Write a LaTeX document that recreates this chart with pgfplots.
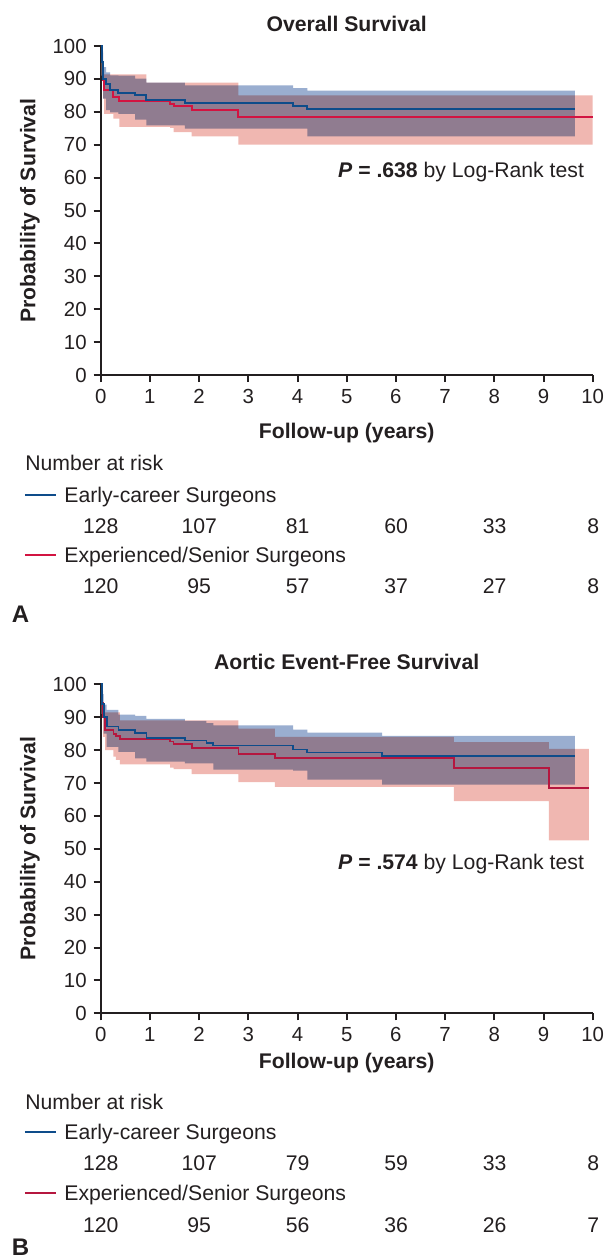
\documentclass[border=0pt]{standalone}
\usepackage{pgfplots}
\pgfplotsset{compat=1.18}
\usepackage{pgfplotstable}
\usepgfplotslibrary{fillbetween}
\usepackage{fontspec}
\setmainfont{Liberation Sans}

\definecolor{bline}{HTML}{0E4C8A}
\definecolor{rlineA}{HTML}{D21441}
\definecolor{rlineB}{HTML}{B5173F}
\definecolor{bfill}{HTML}{9AAED0}
\definecolor{rfill}{HTML}{F0B7B1}
\definecolor{txt}{HTML}{231F20}

% t = years, s = survival, u/l = confidence band
\pgfplotstableread{
t s u l
0 100 100 100
0.03 95 98 91
0.05 90.1 93.6 84
0.11 88.5 92.0 80.5
0.19 86.7 91.1 79.8
0.36 85.8 91.0 79.4
0.70 85.2 90.1 77.6
0.93 83.5 88.9 75.9
1.71 82.7 88.0 74.9
3.91 81.7 87.2 74.9
4.20 80.8 86.4 72.5
9.64 80.8 86.4 72.5
}\earlyA
\pgfplotstableread{
t s u l
0 100 100 100
0.02 95.1 98.5 91
0.05 89.6 93.5 84
0.07 86.5 91.4 79.4
0.26 84.5 91.4 77.9
0.38 83.3 91.4 75.4
0.93 83.3 88.9 75.4
1.41 82.5 88.9 75.1
1.48 81.7 88.9 73.8
1.85 80.6 88.9 72.5
2.80 78.5 85.0 70.0
10.0 78.5 85.0 70.0
}\seniorA
\pgfplotstableread{
t s u l
0 100 100 100
0.02 94 97 90
0.06 90 93.8 85
0.12 87.2 92.2 81
0.36 86.0 90.8 79.5
0.70 85.3 90.4 77.5
0.93 83.6 89.5 76.5
1.71 82.9 88.9 76.0
2.15 82.1 88.2 76.0
2.29 81.4 87.5 74.1
3.91 80.2 86.2 73.8
4.20 79.3 85.3 71.0
5.72 78.1 84.3 69.5
9.64 78.1 84.3 69.5
}\earlyB
\pgfplotstableread{
t s u l
0 100 100 100
0.02 94.5 98 91
0.05 90 93.5 84
0.09 86.2 91.5 80
0.26 85 91.5 78
0.31 84.2 91.5 77
0.39 83.4 89 75.7
1.41 82.6 89 74.7
1.48 81.9 89 74.2
1.85 80.7 89 72.7
2.80 78.9 86.5 70.3
3.54 77.6 84 68.8
7.18 74.6 82.4 64.5
9.11 68.6 80.4 52.6
9.92 68.6 80.4 52.6
}\seniorB

\pgfplotsset{km/.style={
  scale only axis, width=246pt, height=164.5pt,
  xmin=0, xmax=10, ymin=0, ymax=100,
  xtick={0,1,...,10}, ytick={0,10,...,100},
  axis x line*=bottom, axis y line*=left,
  axis line style={line width=1pt, txt},
  tick style={line width=1pt, txt},
  tick align=outside, major tick length=3.5pt,
  clip=false,
  /pgf/number format/assume math mode=true,
  tick label style={font=\fontsize{10.2}{12}\selectfont, text=txt},
  title style={at={(0.5,1)}, anchor=base, yshift=1.5pt, font=\fontsize{10.6}{12}\selectfont\bfseries, text=txt},
  ylabel={Probability of Survival},
  ylabel style={at={(axis description cs:0,0.5)}, anchor=center, yshift=35.35pt, font=\fontsize{10.6}{12}\selectfont\bfseries, text=txt},
  xlabel={Follow-up (years)},
  xlabel style={at={(axis description cs:0.5,0)}, anchor=center, font=\fontsize{10.6}{12}\selectfont\bfseries, text=txt},
}}

\newcommand{\riskrow}[7]{%
  \foreach \xx/\vv in {0/#2,49.25/#3,98.5/#4,147.75/#5,197/#6,246.25/#7}
    \node[anchor=base, inner sep=0pt, text=txt] at (\xx pt,#1) {\fontsize{10.6}{12}\selectfont\vv};}

\begin{document}
\begin{tikzpicture}
\begin{axis}[km, at={(0,0)}, anchor=south west, title={Overall Survival},
  xlabel style={yshift=-29pt}]
  \addplot[name path=ua, draw=none, const plot] table[x=t,y=u] {\seniorA};
  \addplot[name path=la, draw=none, const plot] table[x=t,y=l] {\seniorA};
  \addplot[fill=rfill, draw=none] fill between[of=ua and la];
  \addplot[name path=ub, draw=none, const plot] table[x=t,y=u] {\earlyA};
  \addplot[name path=lb, draw=none, const plot] table[x=t,y=l] {\earlyA};
  \addplot[fill=bfill, draw=none, blend mode=multiply] fill between[of=ub and lb];
  \addplot[rlineA, line width=1pt, const plot] table[x=t,y=s] {\seniorA};
  \addplot[bline, line width=1pt, const plot] table[x=t,y=s] {\earlyA};
  \node[anchor=east, inner sep=0pt, text=txt, font=\fontsize{10.6}{12}\selectfont] at (axis cs:9.83,61.7)
    {\textbf{\textit{P}} \textbf{= .638} by Log-Rank test};
\end{axis}
\node[anchor=base west, inner sep=0pt, text=txt] at (-37.85pt,-47.7pt) {\fontsize{10.6}{12}\selectfont Number at risk};
\draw[bline, line width=0.8pt] (-37.85pt,-60pt) -- (-22.35pt,-60pt);
\node[anchor=base west, inner sep=0pt, text=txt] at (-18.35pt,-63.7pt) {\fontsize{10.6}{12}\selectfont Early-career Surgeons};
\riskrow{-79.2pt}{128}{107}{81}{60}{33}{8}
\draw[rlineA, line width=1.1pt] (-37.85pt,-90pt) -- (-22.35pt,-90pt);
\node[anchor=base west, inner sep=0pt, text=txt] at (-18.35pt,-93.7pt) {\fontsize{10.6}{12}\selectfont Experienced/Senior Surgeons};
\riskrow{-109.2pt}{120}{95}{57}{37}{27}{8}
\node[anchor=base west, inner sep=0pt, text=txt] at (-44.55pt,-123.5pt) {\fontsize{12}{14}\selectfont\bfseries A};

\begin{axis}[km, at={(0,-319.15pt)}, anchor=south west, title={Aortic Event-Free Survival},
  xlabel style={yshift=-25pt}]
  \addplot[name path=ua, draw=none, const plot] table[x=t,y=u] {\seniorB};
  \addplot[name path=la, draw=none, const plot] table[x=t,y=l] {\seniorB};
  \addplot[fill=rfill, draw=none] fill between[of=ua and la];
  \addplot[name path=ub, draw=none, const plot] table[x=t,y=u] {\earlyB};
  \addplot[name path=lb, draw=none, const plot] table[x=t,y=l] {\earlyB};
  \addplot[fill=bfill, draw=none, blend mode=multiply] fill between[of=ub and lb];
  \addplot[rlineB, line width=0.9pt, const plot] table[x=t,y=s] {\seniorB};
  \addplot[bline, line width=0.9pt, const plot] table[x=t,y=s] {\earlyB};
  \node[anchor=east, inner sep=0pt, text=txt, font=\fontsize{10.6}{12}\selectfont] at (axis cs:9.83,45.4)
    {\textbf{\textit{P}} \textbf{= .574} by Log-Rank test};
\end{axis}
\begin{scope}[yshift=-319.15pt]
\node[anchor=base west, inner sep=0pt, text=txt] at (-37.85pt,-48.2pt) {\fontsize{10.6}{12}\selectfont Number at risk};
\draw[bline, line width=1.1pt] (-37.85pt,-59.5pt) -- (-22.35pt,-59.5pt);
\node[anchor=base west, inner sep=0pt, text=txt] at (-18.35pt,-63.2pt) {\fontsize{10.6}{12}\selectfont Early-career Surgeons};
\riskrow{-78.7pt}{128}{107}{79}{59}{33}{8}
\draw[rlineB, line width=0.9pt] (-37.85pt,-90pt) -- (-22.35pt,-90pt);
\node[anchor=base west, inner sep=0pt, text=txt] at (-18.35pt,-93.7pt) {\fontsize{10.6}{12}\selectfont Experienced/Senior Surgeons};
\riskrow{-109.7pt}{120}{95}{56}{36}{26}{7}
\node[anchor=base west, inner sep=0pt, text=txt] at (-44.55pt,-121.3pt) {\fontsize{12}{14}\selectfont\bfseries B};
\end{scope}
\pgfresetboundingbox
\path[use as bounding box] (-50.35pt,-442.5pt) rectangle (253.15pt,187.5pt);
\end{tikzpicture}
\end{document}
